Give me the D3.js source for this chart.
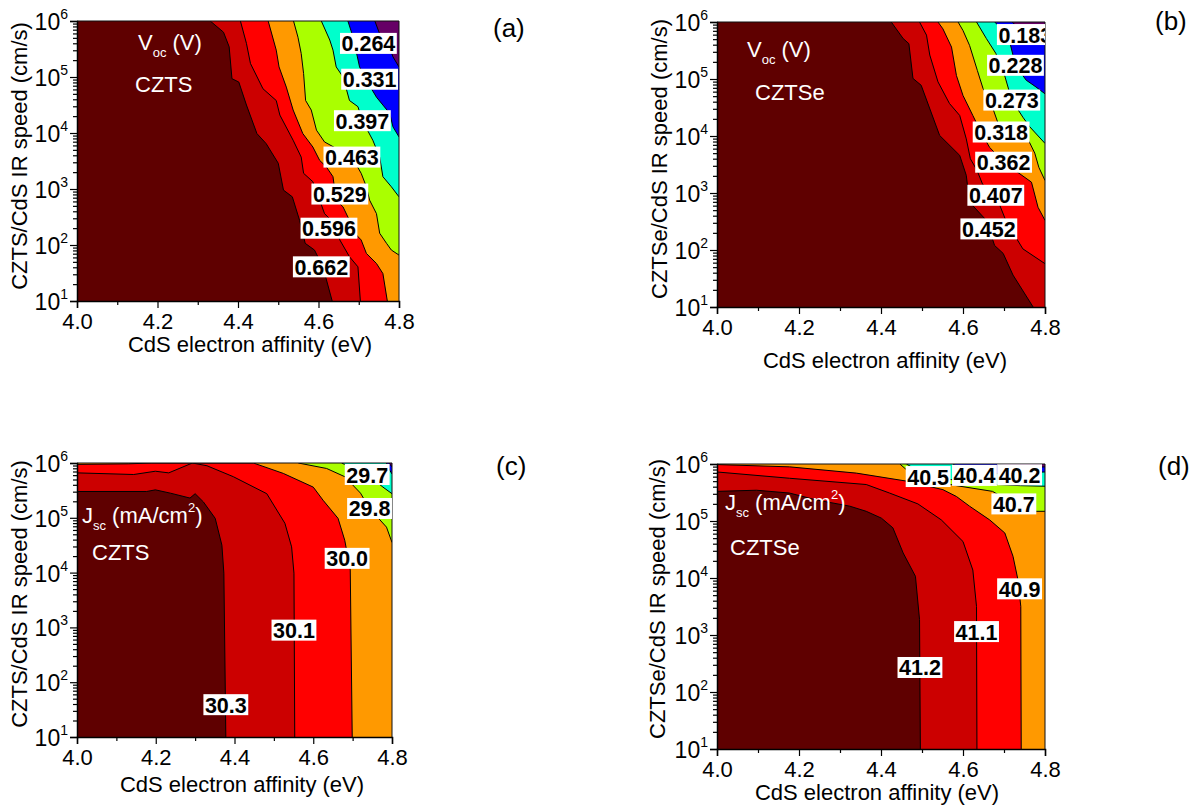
<!DOCTYPE html>
<html>
<head>
<meta charset="utf-8">
<script src="https://cdn.jsdelivr.net/npm/d3@7"></script>
<style>
  body { margin: 0; background: #fff; }
  svg { display: block; }
  text { font-family: "Liberation Sans", Arial, sans-serif; }
</style>
</head>
<body>
<svg id="fig" width="1200" height="808"></svg>
<script>
// colours of the filled bands, lowest band first (left / bottom of every panel)
const fillColors = ["#5f0000", "#cc0000", "#ff0000", "#ff9900", "#aaff00", "#00ffcc", "#0000ff", "#660066"];

const xTickValues = [4.0, 4.2, 4.4, 4.6, 4.8];
const xMinorValues = [4.1, 4.3, 4.5, 4.7];
const yDecades = [1, 2, 3, 4, 5, 6];

// contour boundaries: [CdS electron affinity (eV), log10 IR speed]
const vocCztsLevels = ["0.662", "0.596", "0.529", "0.463", "0.397", "0.331", "0.264"];
const vocCztsLabelAt = [[4.607, 1.61], [4.626, 2.30], [4.653, 2.91], [4.683, 3.57], [4.709, 4.22], [4.727, 4.96], [4.724, 5.60]];
const vocCztsLines = [
  [[4.331, 6.00], [4.364, 5.80], [4.378, 5.54], [4.385, 4.97], [4.402, 4.91], [4.421, 4.50], [4.447, 3.99], [4.470, 3.81], [4.500, 3.46], [4.513, 2.98], [4.535, 2.86], [4.553, 2.44], [4.567, 2.03], [4.590, 1.91], [4.611, 1.61], [4.634, 1.00]],
  [[4.406, 6.00], [4.421, 5.60], [4.431, 5.24], [4.462, 4.79], [4.495, 4.58], [4.504, 4.32], [4.537, 3.87], [4.557, 3.57], [4.563, 3.28], [4.586, 3.13], [4.603, 2.80], [4.615, 2.56], [4.636, 2.41], [4.653, 2.09], [4.677, 1.79], [4.698, 1.61], [4.704, 1.00]],
  [[4.475, 6.00], [4.495, 5.48], [4.502, 5.18], [4.520, 4.82], [4.537, 4.41], [4.561, 3.99], [4.586, 3.75], [4.603, 3.51], [4.619, 3.40], [4.636, 3.22], [4.644, 2.80], [4.661, 2.68], [4.677, 2.44], [4.690, 2.21], [4.706, 2.09], [4.719, 1.85], [4.744, 1.67], [4.760, 1.49], [4.771, 1.00]],
  [[4.538, 6.00], [4.549, 5.71], [4.557, 5.42], [4.563, 5.06], [4.568, 4.58], [4.582, 4.41], [4.595, 4.05], [4.615, 3.84], [4.683, 3.57], [4.706, 3.28], [4.719, 3.04], [4.727, 2.80], [4.744, 2.56], [4.752, 2.21], [4.769, 2.03], [4.781, 1.91], [4.800, 1.82]],
  [[4.607, 6.00], [4.628, 5.66], [4.636, 5.48], [4.644, 5.18], [4.661, 5.00], [4.677, 4.58], [4.698, 4.47], [4.709, 4.22], [4.735, 3.87], [4.752, 3.57], [4.760, 3.22], [4.781, 3.04], [4.800, 2.86]],
  [[4.673, 6.00], [4.686, 5.71], [4.702, 5.18], [4.719, 4.94], [4.744, 4.64], [4.777, 4.35], [4.785, 4.11], [4.800, 3.93]],
  [[4.740, 6.00], [4.752, 5.77], [4.773, 5.60], [4.785, 5.36], [4.800, 5.18]]
];

const vocCztseLevels = ["0.452", "0.407", "0.362", "0.318", "0.273", "0.228", "0.183"];
const vocCztseLabelAt = [[4.663, 2.37], [4.680, 2.96], [4.699, 3.54], [4.693, 4.07], [4.719, 4.63], [4.728, 5.24], [4.752, 5.78]];
const vocCztseLines = [
  [[4.425, 6.00], [4.454, 5.71], [4.468, 5.62], [4.478, 5.01], [4.498, 4.89], [4.543, 4.01], [4.592, 3.66], [4.608, 3.31], [4.616, 2.84], [4.657, 2.52], [4.677, 2.08], [4.698, 1.94], [4.722, 1.56], [4.771, 1.00]],
  [[4.494, 6.00], [4.511, 5.77], [4.519, 5.42], [4.539, 4.95], [4.567, 4.57], [4.592, 4.36], [4.608, 3.95], [4.618, 3.60], [4.634, 3.40], [4.648, 3.15], [4.680, 2.96], [4.706, 2.49], [4.746, 2.02], [4.800, 1.76]],
  [[4.539, 6.00], [4.551, 5.88], [4.572, 5.56], [4.584, 5.06], [4.600, 4.71], [4.624, 4.36], [4.645, 4.05], [4.665, 3.80], [4.699, 3.54], [4.767, 3.19], [4.783, 2.75], [4.800, 2.52]],
  [[4.588, 6.00], [4.600, 5.85], [4.616, 5.59], [4.635, 5.15], [4.649, 4.83], [4.673, 4.48], [4.693, 4.07], [4.760, 3.92], [4.775, 3.70], [4.785, 3.45], [4.800, 3.22]],
  [[4.633, 6.00], [4.657, 5.71], [4.680, 5.45], [4.700, 5.10], [4.719, 4.63], [4.746, 4.33], [4.763, 4.16], [4.800, 3.87]],
  [[4.677, 6.00], [4.700, 5.85], [4.715, 5.62], [4.728, 5.24], [4.754, 4.98], [4.778, 4.86], [4.800, 4.74]],
  [[4.720, 6.00], [4.752, 5.78], [4.780, 5.66], [4.800, 5.60]]
];

const jscCztsLevels = ["30.3", "30.1", "30.0", "29.8", "29.7"];
const jscCztsLabelAt = [[4.378, 1.59], [4.551, 2.95], [4.686, 4.26], [4.743, 5.17], [4.737, 5.79]];
const jscCztsLines = [
  [[4.000, 5.48], [4.177, 5.48], [4.199, 5.51], [4.237, 5.45], [4.287, 5.36], [4.300, 5.44], [4.321, 5.29], [4.351, 4.99], [4.368, 4.50], [4.373, 3.99], [4.378, 1.00]],
  [[4.000, 5.82], [4.144, 5.79], [4.199, 5.85], [4.233, 5.82], [4.293, 6.00], [4.330, 5.95], [4.397, 5.75], [4.482, 5.44], [4.528, 4.90], [4.545, 4.47], [4.551, 3.99], [4.553, 1.00]],
  [[4.000, 5.975], [4.130, 5.985], [4.190, 6.00], [4.448, 6.00], [4.524, 5.81], [4.600, 5.56], [4.625, 5.32], [4.663, 4.99], [4.680, 4.59], [4.694, 4.05], [4.699, 1.00]],
  [[4.562, 6.00], [4.634, 5.90], [4.680, 5.75], [4.720, 5.45], [4.743, 5.17], [4.786, 4.83], [4.800, 4.55]],
  [[4.672, 6.00], [4.737, 5.79], [4.777, 5.56], [4.800, 5.44]],
  [[4.786, 6.00], [4.794, 5.87], [4.800, 5.80]],
  [[4.792, 6.00], [4.800, 5.93]]
];

const jscCztseLevels = ["41.2", "41.1", "40.9", "40.7", "40.5", "40.4", "40.2"];
const jscCztseLabelAt = [[4.495, 2.43], [4.633, 3.06], [4.738, 3.81], [4.724, 5.30], [4.515, 5.78], [4.628, 5.80], [4.738, 5.81]];
const jscCztseLines = [
  [[4.000, 5.52], [4.096, 5.54], [4.177, 5.49], [4.242, 5.37], [4.324, 5.26], [4.364, 5.17], [4.401, 5.05], [4.429, 4.88], [4.454, 4.44], [4.484, 4.03], [4.494, 3.27], [4.496, 1.00]],
  [[4.000, 5.86], [4.177, 5.75], [4.364, 5.64], [4.421, 5.49], [4.490, 5.30], [4.547, 5.02], [4.600, 4.64], [4.624, 4.14], [4.633, 3.50], [4.634, 1.00]],
  [[4.000, 5.99], [4.177, 5.95], [4.340, 5.84], [4.462, 5.70], [4.551, 5.55], [4.584, 5.43], [4.616, 5.26], [4.665, 5.02], [4.702, 4.79], [4.722, 4.38], [4.734, 3.97], [4.741, 3.50], [4.742, 1.00]],
  [[4.446, 6.00], [4.470, 5.85], [4.500, 5.74], [4.584, 5.62], [4.672, 5.52], [4.724, 5.30], [4.779, 5.17], [4.800, 5.17]],
  [[4.462, 6.00], [4.515, 5.78], [4.600, 5.70], [4.681, 5.64], [4.740, 5.62], [4.800, 5.61]],
  [[4.575, 6.00], [4.628, 5.80], [4.700, 5.84], [4.800, 5.86]],
  [[4.683, 6.00], [4.738, 5.93], [4.800, 5.95]]
];

// page layout of the four panels
const panels = [
  { lines: vocCztsLines, levels: vocCztsLevels, labelAt: vocCztsLabelAt, box: [77, 399, 21, 301],
    yTitle: "CZTS/CdS IR speed (cm/s)", yTitlePos: [27, 156], xTitlePos: [250, 352],
    tag: "(a)", tagPos: [493, 37], kind: "voc", material: "CZTS", notePos: [61, 29], matPos: [58, 71] },
  { lines: vocCztseLines, levels: vocCztseLevels, labelAt: vocCztseLabelAt, box: [717, 1045, 22, 307],
    yTitle: "CZTSe/CdS IR speed (cm/s)", yTitlePos: [667, 159], xTitlePos: [885, 368],
    tag: "(b)", tagPos: [1155, 30], kind: "voc", material: "CZTSe", notePos: [30, 35], matPos: [38, 78] },
  { lines: jscCztsLines, levels: jscCztsLevels, labelAt: jscCztsLabelAt, box: [77, 392, 463, 737],
    yTitle: "CZTS/CdS IR speed (cm/s)", yTitlePos: [27, 594], xTitlePos: [242, 792],
    tag: "(c)", tagPos: [496, 475], kind: "jsc", material: "CZTS", notePos: [5, 60], matPos: [15, 97] },
  { lines: jscCztseLines, levels: jscCztseLevels, labelAt: jscCztseLabelAt, box: [717, 1045, 464, 749],
    yTitle: "CZTSe/CdS IR speed (cm/s)", yTitlePos: [665, 599], xTitlePos: [877, 800],
    tag: "(d)", tagPos: [1158, 475], kind: "jsc", material: "CZTSe", notePos: [8, 46], matPos: [13, 91] }
];

const svg = d3.select("#fig");
const defs = svg.append("defs");

const drawPanel = (p, idx) => {
  const [x0, x1, y0, y1] = p.box;
  const x = d3.scaleLinear().domain([4.0, 4.8]).range([x0, x1]);
  const y = d3.scaleLog().domain([1e1, 1e6]).range([y1, y0]);
  const pt = d => [x(d[0]), y(Math.pow(10, d[1]))];
  const line = d3.line();

  defs.append("clipPath").attr("id", "clip" + idx)
    .append("rect").attr("x", x0).attr("y", y0).attr("width", x1 - x0).attr("height", y1 - y0);

  const g = svg.append("g");
  const plot = g.append("g").attr("clip-path", `url(#clip${idx})`);

  // lowest band covers the whole plot, every band above is painted over it
  plot.append("rect")
    .attr("x", x(4.0)).attr("y", y(1e6))
    .attr("width", x(4.8) - x(4.0)).attr("height", y(1e1) - y(1e6))
    .attr("fill", fillColors[0]);

  p.lines.forEach((ln, k) => {
    const poly = ln.concat([[4.8, 1], [4.8, 6], [4.0, 6]]);
    plot.append("path").attr("d", line(poly.map(pt)) + "Z").attr("fill", fillColors[k + 1]);
  });
  p.lines.forEach(ln => {
    plot.append("path").attr("d", line(ln.map(pt)))
      .attr("fill", "none").attr("stroke", "#000").attr("stroke-width", 1);
  });

  // frame
  g.append("path")
    .attr("d", `M${x0},${y0}H${x1}V${y1}`)
    .attr("fill", "none").attr("stroke", "#111").attr("stroke-width", 1);

  // contour value labels
  const lab = g.append("g").attr("clip-path", `url(#clip${idx})`);
  p.levels.forEach((v, k) => {
    const [cx, cy] = pt(p.labelAt[k]);
    const t = lab.append("text")
      .attr("x", cx).attr("y", cy + 8)
      .attr("text-anchor", "middle")
      .attr("font-size", 21.5).attr("font-weight", "bold")
      .text(v);
    const w = t.node().getComputedTextLength();
    lab.insert("rect", "text")
      .attr("x", cx - w / 2 - 1.5).attr("y", cy - 10.5)
      .attr("width", w + 3).attr("height", 21)
      .attr("fill", "#fff");
  });

  // in-plot white annotation
  const note = g.append("text")
    .attr("x", x0 + p.notePos[0]).attr("y", y0 + p.notePos[1])
    .attr("fill", "#fff").attr("font-size", 22);
  if (p.kind === "voc") {
    note.append("tspan").text("V");
    note.append("tspan").attr("font-size", 13).attr("dy", 7).text("oc");
    note.append("tspan").attr("dy", -7).text(" (V)");
  } else {
    note.append("tspan").text("J");
    note.append("tspan").attr("font-size", 13).attr("dy", 7).text("sc");
    note.append("tspan").attr("dy", -7).text(" (mA/cm");
    note.append("tspan").attr("font-size", 13).attr("dy", -11).text("2");
    note.append("tspan").attr("dy", 11).text(")");
  }
  g.append("text")
    .attr("x", x0 + p.matPos[0]).attr("y", y0 + p.matPos[1])
    .attr("fill", "#fff").attr("font-size", 22)
    .text(p.material);

  // x axis
  const xa = g.append("g").attr("transform", `translate(0,${y1})`)
    .call(d3.axisBottom(x).tickValues(xTickValues).tickSize(7).tickPadding(5).tickFormat(d3.format(".1f")));
  g.append("g").attr("transform", `translate(0,${y1})`)
    .call(d3.axisBottom(x).tickValues(xMinorValues).tickSize(4).tickFormat(""))
    .select(".domain").remove();
  xa.attr("font-size", 22).attr("font-family", null);
  xa.selectAll("text").attr("fill", "#000");

  // y axis, log decades with minor ticks
  const minors = y.ticks().filter(v => !yDecades.includes(Math.round(Math.log10(v) * 1000) / 1000));
  const ya = g.append("g").attr("transform", `translate(${x0},0)`)
    .call(d3.axisLeft(y).tickValues(yDecades.map(e => Math.pow(10, e))).tickSize(7).tickFormat(""));
  g.append("g").attr("transform", `translate(${x0},0)`)
    .call(d3.axisLeft(y).tickValues(minors).tickSize(4).tickFormat(""))
    .select(".domain").remove();
  [xa, ya].forEach(a => a.select(".domain").attr("stroke-width", 1.5));
  g.selectAll(".tick line").attr("stroke-width", 1.2);

  yDecades.forEach(e => {
    const t = g.append("text")
      .attr("x", x0 - 9).attr("y", y(Math.pow(10, e)) + 9)
      .attr("text-anchor", "end").attr("font-size", 23);
    t.append("tspan").text("10");
    t.append("tspan").attr("font-size", 14).attr("dy", -11).text(e);
  });

  // axis titles
  g.append("text")
    .attr("x", p.xTitlePos[0]).attr("y", p.xTitlePos[1])
    .attr("text-anchor", "middle").attr("font-size", 22)
    .text("CdS electron affinity (eV)");
  g.append("text")
    .attr("transform", `translate(${p.yTitlePos[0]},${p.yTitlePos[1]}) rotate(-90)`)
    .attr("text-anchor", "middle").attr("font-size", 22)
    .text(p.yTitle);

  // panel tag
  g.append("text")
    .attr("x", p.tagPos[0]).attr("y", p.tagPos[1])
    .attr("font-family", "'Liberation Serif', 'DejaVu Serif', serif")
    .attr("font-size", 26)
    .text(p.tag);
};

panels.forEach(drawPanel);
</script>
</body>
</html>
